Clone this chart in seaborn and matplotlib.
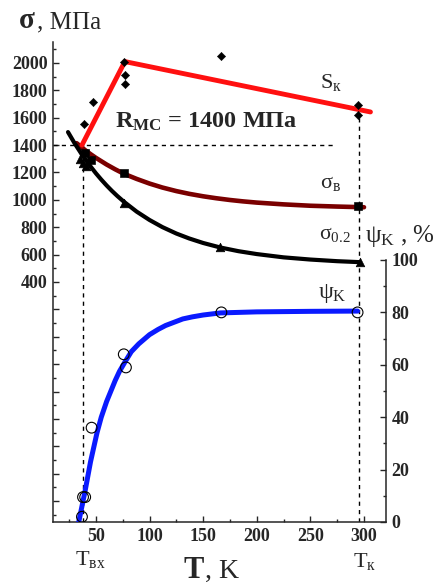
import numpy as np
import pandas as pd
import matplotlib
matplotlib.use("Agg")
import matplotlib.pyplot as plt
from matplotlib.ticker import MultipleLocator, FixedLocator, FuncFormatter
import seaborn as sns

# ---------------- data ----------------
# S_K fracture stress: broken line and scatter points
sk_line_T = [37, 77, 306]
sk_line_v = [1400, 2010, 1642]
sk_pts_T = [39, 47, 76, 77, 77, 167, 294, 294]
sk_pts_v = [1553, 1715, 2007, 1912, 1846, 2051, 1692, 1619]

# sigma_B (ultimate strength) curve and points
sb_T = [32, 40, 45, 50, 60, 68, 76, 88, 100, 112, 125, 137, 150, 162, 175, 187, 200, 225, 250, 275, 300]
sb_v = [1414, 1363, 1334, 1307, 1258, 1223, 1191, 1153, 1119, 1090, 1064, 1044, 1026, 1012,
        999, 989, 980, 967, 957, 951, 946]
sb_pts_T = [40, 45, 76, 294]
sb_pts_v = [1340, 1290, 1194, 952]

# sigma_0.2 (yield strength) curve and points
sy_T = [24, 30, 37, 45, 50, 55, 60, 65, 70, 76, 88, 100, 112, 125, 137, 150, 166, 183, 200,
        225, 250, 275, 296]
sy_v = [1495, 1415, 1330, 1244, 1194, 1148, 1105, 1065, 1028, 987, 914, 853, 801, 754, 718,
        685, 652, 625, 604, 580, 564, 552, 545]
sy_pts_T = [35, 38, 41, 76, 166, 296]
sy_pts_v = [1300, 1270, 1250, 974, 652, 545]

# psi_K (reduction of area, %) curve and points
psi_T = [34, 37, 40, 45, 51, 55, 60, 68, 72, 77, 83, 90, 100, 108, 115, 131, 140, 150, 166,
         183, 200, 250, 294]
psi_v = [0, 6, 12, 23, 34, 40, 46, 54, 57.5, 61, 65, 68, 71.5, 73.5, 75, 77.5, 78.3, 79, 79.8,
         80.0, 80.2, 80.4, 80.5]
psi_pts_T = [37, 38, 40, 46, 76, 78, 167, 294]
psi_pts_v = [2, 9.5, 9.5, 36, 64, 59, 80, 80]

x_ticks = [50, 100, 150, 200, 250, 300]
left_labels = [400, 600, 800, 1000, 1200, 1400, 1600, 1800, 2000]
right_ticks = [0, 20, 40, 60, 80, 100]

T_bx = 38
T_k = 295.5
R_mc = 1400

# ---------------- style ----------------
sns.set_style("ticks")
plt.rcParams["font.family"] = ["Liberation Serif", "DejaVu Serif"]
plt.rcParams["mathtext.fontset"] = "custom"
plt.rcParams["mathtext.rm"] = "Liberation Serif"
plt.rcParams["mathtext.it"] = "Liberation Serif:italic"
plt.rcParams["mathtext.bf"] = "Liberation Serif:bold"

W, H = 439, 584
fig = plt.figure(figsize=(W / 100, H / 100), dpi=100)
ax = fig.add_axes([53 / W, 1 - 522 / H, (386 - 53) / W, (522 - 42) / H])
ax2 = ax.twinx()

ax.set_xlim(10, 320.5)
ax.set_ylim(-1353, 2153)
ax2.set_ylim(0, 183.2)

# reference lines
dash = (0, (3, 3))
ax.plot([10, 271], [R_mc, R_mc], color="black", lw=1, linestyle=dash)
ax.plot([T_bx, T_bx], [-1353, R_mc], color="black", lw=1, linestyle=dash)
ax.plot([T_k, T_k], [-1353, 1620], color="black", lw=1, linestyle=dash)

# curves
sns.lineplot(x=sb_T, y=sb_v, ax=ax, color="#7a0000", lw=3.3, sort=False, estimator=None)
sns.lineplot(x=sy_T, y=sy_v, ax=ax, color="black", lw=3.0, sort=False, estimator=None)
sns.lineplot(x=sk_line_T, y=sk_line_v, ax=ax, color="#ff1010", lw=3.5, sort=False, estimator=None)

sns.scatterplot(x=sk_pts_T, y=sk_pts_v, ax=ax, marker="D", s=18, color="black", edgecolor="black", zorder=5)
sns.scatterplot(x=sb_pts_T, y=sb_pts_v, ax=ax, marker="s", s=30, color="black", edgecolor="black", zorder=5)
sns.scatterplot(x=sy_pts_T, y=sy_pts_v, ax=ax, marker="^", s=38, color="black", edgecolor="black", zorder=5)

sns.lineplot(x=psi_T, y=psi_v, ax=ax2, color="#0a1aff", lw=3.6, sort=False, estimator=None)
sns.scatterplot(x=psi_pts_T, y=psi_pts_v, ax=ax2, marker="o", s=60, facecolor="none",
                edgecolor="black", linewidth=0.8, zorder=6)

# spines
for s in ["top", "right"]:
    ax.spines[s].set_visible(False)
for s in ["top", "left", "bottom"]:
    ax2.spines[s].set_visible(False)
ax2.spines["right"].set_bounds(0, 100)
for a in (ax, ax2):
    for s in a.spines.values():
        s.set_linewidth(1.1)

# ticks
ax.xaxis.set_major_locator(FixedLocator(x_ticks))
ax.xaxis.set_minor_locator(MultipleLocator(25))
ax.yaxis.set_major_locator(MultipleLocator(200))
ax.yaxis.set_minor_locator(MultipleLocator(100))
ax.yaxis.set_major_formatter(FuncFormatter(lambda v, p: f"{int(round(v))}" if int(round(v)) in left_labels else ""))
ax2.yaxis.set_major_locator(FixedLocator(right_ticks))
ax2.yaxis.set_minor_locator(FixedLocator([10, 30, 50, 70, 90]))

ax.tick_params(axis="both", which="major", direction="in", length=4, width=1, pad=4)
ax.tick_params(axis="both", which="minor", direction="in", length=2.5, width=1)
ax2.tick_params(axis="y", which="major", direction="in", length=4, width=1, pad=4)
ax2.tick_params(axis="y", which="minor", direction="in", length=2.5, width=1)
for lab in ax.get_xticklabels() + ax.get_yticklabels() + ax2.get_yticklabels():
    lab.set_fontsize(13)
    lab.set_fontweight("bold")
ax.set_xlabel("")
ax.set_ylabel("")
ax2.set_ylabel("")

# annotations
ax.text(67.7, 1525, r"R$_{\mathbf{MC}}$ = 1400 МПа", fontsize=17.5, fontweight="bold", va="baseline")
ax.text(259, 1817, r"S$_{\mathrm{к}}$", fontsize=16, va="baseline")
ax.text(259, 1087, r"σ$_{\mathrm{в}}$", fontsize=16, va="baseline")
ax.text(258, 714, r"σ$_{\mathrm{0.2}}$", fontsize=15.5, va="baseline")
ax2.text(257, 85.5, r"ψ$_{\mathrm{K}}$", fontsize=17, va="baseline")

fig.text(19 / W, 1 - 28 / H, "σ", fontsize=21, fontweight="bold", va="baseline")
fig.text(37 / W, 1 - 28 / H, ", МПа", fontsize=18, va="baseline")
fig.text(365 / W, 1 - 242 / H, r"ψ$_{\mathrm{K}}$ , %", fontsize=18, va="baseline")
fig.text(75 / W, 1 - 565 / H, r"T$_{\mathrm{вх}}$", fontsize=16, va="baseline")
fig.text(353 / W, 1 - 567 / H, r"T$_{\mathrm{к}}$", fontsize=16, va="baseline")
fig.text(184 / W, 1 - 578 / H, "T", fontsize=22, fontweight="bold", va="baseline")
fig.text(205 / W, 1 - 578 / H, ", K", fontsize=20, va="baseline")

fig.savefig("out.png", dpi=100)
